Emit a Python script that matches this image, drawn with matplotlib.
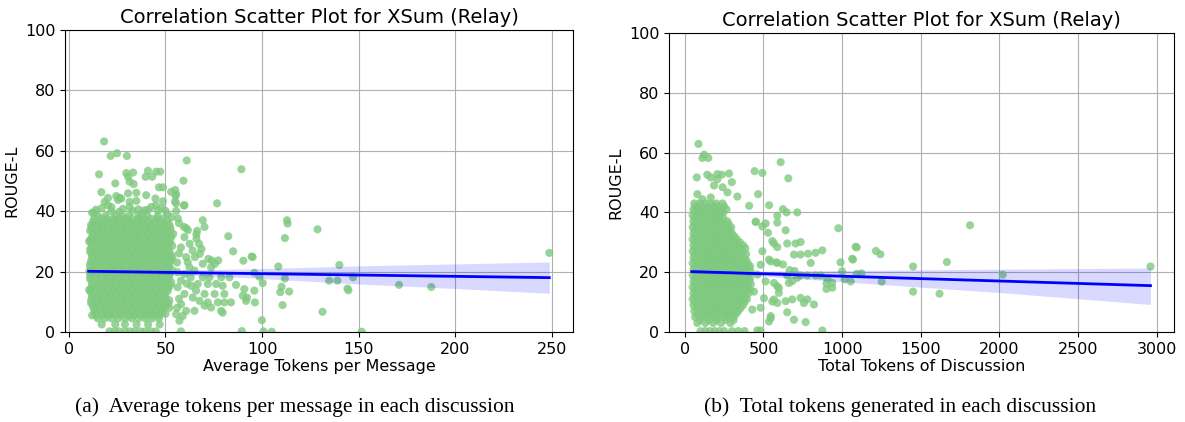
import matplotlib.pyplot as plt

# ---- panel (a): average tokens per message vs ROUGE-L ----
# dense core, one row per ROUGE-L level: (rouge, [avg tokens ...])
core_rows_a = [
    (38.5, [15, 19, 24, 27.5, 31, 36, 40.5, 46]),
    (37.5, [13, 16.5, 19.5, 23, 26, 29.5, 32.5, 36, 39, 42.5, 45.5, 49]),
    (36.5, [12.5, 15.5, 19, 22, 25, 28.5, 31.5, 35, 38, 41, 44.5, 48, 51]),
    (35.5, [11.5, 14, 17, 20.5, 23.5, 26.5, 30, 33, 36, 39, 42.5, 45.5, 49, 52]),
    (34.5, [11.5, 14.5, 17.5, 20.5, 23.5, 27, 30, 33, 36.5, 39.5, 42.5, 46, 49, 52.5]),
    (33.5, [11, 14.5, 17.5, 20.5, 24, 27, 30, 33.5, 36.5, 39.5, 43, 46, 49, 52.5]),
    (32.5, [12.5, 16, 19, 22, 25, 28, 31.5, 34.5, 37.5, 41, 44, 47, 50.5, 54]),
    (31.5, [12, 15, 18, 21.5, 24.5, 27.5, 31, 34, 37, 40.5, 43.5, 46.5, 50, 53]),
    (30.5, [11, 14, 17.5, 20.5, 23.5, 26.5, 30, 33, 36, 39.5, 42.5, 45.5, 49, 52]),
    (29.5, [11.5, 14.5, 18, 21, 24, 27.5, 30.5, 33.5, 37, 40, 43, 46.5, 49.5, 52.5]),
    (28.5, [12, 15.5, 18.5, 21.5, 25, 28, 31, 34.5, 37.5, 40.5, 44, 47, 50, 53.5]),
    (27.5, [11, 14, 17, 20, 23, 26.5, 29.5, 32.5, 36, 39, 42, 45.5, 48.5, 51.5]),
    (26.5, [11, 14, 17, 20.5, 23.5, 26.5, 30, 33, 36, 39, 42.5, 45.5, 48.5, 52]),
    (25.5, [12, 15, 18.5, 21.5, 24.5, 28, 31, 34, 37.5, 40.5, 43.5, 47, 50, 53]),
    (24.5, [12, 15.5, 18.5, 21.5, 25, 28, 31, 34, 37.5, 40.5, 43.5, 47, 50, 53.5]),
    (23.5, [11.5, 14.5, 17.5, 21, 24, 27, 30.5, 33.5, 36.5, 40, 43, 46, 49.5, 52.5]),
    (22.5, [11, 14, 17, 20, 23.5, 26.5, 29.5, 33, 36, 39, 42, 45.5, 48.5, 52]),
    (21.5, [11, 14, 17, 20, 23, 26.5, 29.5, 32.5, 36, 39, 42, 45.5, 48.5, 51.5]),
    (20.5, [12, 15.5, 18.5, 21.5, 24.5, 28, 31, 34, 37, 40.5, 43.5, 46.5, 50, 53.5]),
    (19.5, [11.5, 14.5, 18, 21, 24, 27.5, 30.5, 33.5, 37, 40, 43, 46.5, 49.5, 52.5]),
    (18.5, [11, 14, 17, 20, 23.5, 26.5, 29.5, 32.5, 36, 39, 42, 45, 48.5, 52]),
    (17.5, [11, 14, 17, 20, 23, 26.5, 29.5, 32.5, 36, 39, 42, 45.5, 48.5, 51.5]),
    (16.5, [12, 15.5, 18.5, 21.5, 24.5, 28, 31, 34, 37, 40.5, 43.5, 46.5, 50, 53]),
    (15.5, [12, 15, 18.5, 21.5, 24.5, 28, 31, 34, 37.5, 40.5, 43.5, 47, 50, 52.5]),
    (14.5, [11.5, 14.5, 17.5, 20.5, 23.5, 27, 30, 33, 36, 39, 42.5, 45.5, 48.5, 51.5]),
    (13.5, [11, 14, 17, 20, 23, 26.5, 29.5, 32.5, 36, 39, 42, 45.5, 48.5, 51]),
    (12.5, [12, 15.5, 18.5, 21.5, 24.5, 28, 31, 34, 37, 40, 43.5, 46.5, 49.5]),
    (11.5, [12, 15, 18, 21.5, 24.5, 27.5, 31, 34, 37, 40.5, 43.5, 46.5, 50]),
    (10.5, [11.5, 14.5, 17.5, 20.5, 23.5, 27, 30, 33, 36, 39, 42, 45.5, 48.5, 52]),
    (9.5, [11.5, 14.5, 17.5, 20.5, 24, 27, 30, 33.5, 36.5, 39.5, 43, 46, 49, 51.5]),
    (8.5, [12.5, 16, 19, 22, 25, 28, 31.5, 34.5, 37.5, 40.5, 43.5, 47, 50]),
    (7.5, [13, 16.5, 19.5, 22.5, 26, 29, 32, 35.5, 38.5, 41.5, 45, 48]),
    (6.5, [13.5, 17, 20, 23, 26.5, 29.5, 32.5, 35.5, 39, 42, 45, 48]),
    (5.5, [14, 17.5, 20.5, 24, 27, 30.5, 33.5, 37, 40, 43.5, 47]),
    (4.5, [15, 18.5, 22, 25.5, 29, 32.5, 36, 39.5, 43, 46.5]),
    (2.5, [17, 24, 29, 35, 41, 47]),
    (0.2, [21, 23.5, 26, 29, 31.5, 34, 37, 39.5, 42.5, 45]),
]

# scattered discussions outside the core
extra_avg_tokens = [
    18.2, 21.6, 24.9, 30, 61, 89.3, 15.6, 29.7, 33.2, 30.6, 31.4, 40.9, 45.2, 47.3,
    39.7, 43.1, 59.3, 24, 33.5, 46.6, 48.7, 52.9, 55, 55.5, 16.8, 20.2, 24.5, 26.2,
    30.6, 34.9, 40, 44.8, 48.7, 55.2, 55.5, 59.8, 18.5, 20.2, 22, 25.4, 27.1, 31.4,
    34.9, 31.4, 39.2, 42.6, 46.1, 50, 76.7, 59.6, 54.9, 55.5, 56.4, 69.3, 60.7, 59.5,
    70.2, 66.4, 66, 82.5, 85, 94.6, 90.3, 14, 17, 28, 36, 45, 12,
    13, 22, 26, 33, 38, 41, 48, 51, 53, 10.5, 10.5, 10.5, 12, 50, 52,
    61.6, 62.5, 66, 67.4, 68.6, 59.8, 60.7, 65.2, 67.8, 72.2, 73.9, 75.6, 77.3, 73.6,
    69.3, 61.5, 62.4, 65, 59.8, 56.3, 69.3, 72.8, 78.8, 83.1, 66.7, 63.3, 71.9, 76.2,
    79.6, 86.5, 65.8, 70.2, 75.4, 80.5, 56.3, 59.8, 64.1, 67.6, 71.9, 77.1, 80.5, 83.9,
    91.7, 90, 58.1, 60.7, 65, 70.2, 73.6, 78.8, 79.6, 55.5, 58.9, 57.2,
    57, 58, 57, 56, 58, 57, 56, 61, 63, 64,
    248.7, 187.6, 170.9, 151.6, 147.1, 144.2, 144.7, 140, 139, 134.7, 131.3, 128.7,
    112.9, 113.2, 111.8, 111.8, 110.6, 110.1, 109.4, 114, 108.4, 105, 99.9, 100.3,
    98.6, 96, 96, 96.3, 95.1, 90.8, 92.2, 89.5, 58, 100.8,
]
extra_rouge_a = [
    63.1, 58.3, 59.2, 58.3, 56.8, 53.9, 52.2, 52.6, 52.8, 51.4, 49.8, 53.4, 53.1, 53.1,
    51.4, 51.4, 50.1, 49.2, 49, 47.9, 47.9, 46.4, 47, 45.6, 46.3, 44.4, 45, 44.4,
    45.9, 46.1, 45.3, 44.2, 43.3, 45, 42.6, 42, 43.1, 42, 41.4, 43.7, 44.2, 43.1,
    43.4, 41.4, 40.3, 41.4, 40.3, 40.1, 42.6, 41.9, 43.2, 40.1, 37.6, 37, 34.4, 34.8,
    34.8, 33.5, 32.4, 31.7, 26.7, 25, 23.6, 40.5, 41, 40.8, 40.6, 42, 39.5,
    39.5, 40, 39.8, 40.2, 39.4, 40.5, 41, 39, 38, 30, 20, 14, 5.5, 6, 8,
    33.7, 29.2, 30.9, 29.2, 27.5, 31.4, 24.8, 24.8, 25.9, 24.2, 23.7, 22.6, 23.7, 21.4,
    22.6, 23.1, 21.4, 20.3, 19.2, 19.8, 18.1, 18.1, 18.1, 18.1, 15.9, 15.3, 15.9, 15.9,
    15.3, 15.6, 13.7, 12.6, 12.6, 12.6, 14.8, 12.6, 11.4, 10.3, 9.8, 9.8, 9.8, 9.8,
    10.3, 12, 9.2, 7, 7, 8.7, 8.1, 7, 6.4, 5.9, 5.3, 3.7,
    36, 28, 26, 23, 17, 11, 8, 16, 18, 27,
    26.2, 14.9, 15.6, 0.1, 18.1, 14.4, 13.8, 22.2, 17, 17, 6.7, 34,
    37, 35.9, 31.1, 17.7, 8.9, 15, 13.2, 13.4, 21.7, 0.1, 3.9, 16.2,
    18.3, 19.6, 13.7, 9.8, 24.8, 14.2, 11.4, 0.3, 0.2, 0.2,
]

# regression line and its confidence band
fit_a_x = [10.2, 248.7]
fit_a_y = [20.1, 18.0]
band_a_x = [10.2, 35, 94, 150, 197, 248.7]
band_a_lo = [19.5, 19.5, 17.9, 15.9, 14.5, 12.8]
band_a_hi = [20.7, 20.3, 20.9, 21.9, 22.5, 23.2]

# ---- panel (b): total tokens of discussion vs ROUGE-L ----
core_rows_b = [
    (43, [60, 95, 130, 165, 200, 240]),
    (42, [70, 105, 140, 180, 215, 250]),
    (41, [55, 90, 125, 160, 195, 230, 265]),
    (40, [65, 100, 135, 170, 210, 245]),
    (39, [50, 85, 120, 155, 190, 225]),
    (38, [65, 100, 140, 175, 210, 245]),
    (37, [55, 90, 125, 160, 195, 230, 270]),
    (36, [65, 100, 140, 175, 210, 245, 280]),
    (35, [50, 85, 120, 155, 190, 225, 260, 295]),
    (34, [65, 105, 140, 175, 210, 245, 285]),
    (33, [55, 90, 125, 160, 195, 230, 265, 300]),
    (32, [65, 100, 140, 175, 210, 245, 280, 315]),
    (31, [50, 85, 120, 155, 190, 225, 260, 295, 330]),
    (30, [65, 105, 140, 175, 210, 245, 280, 315, 350]),
    (29, [55, 90, 125, 160, 195, 230, 265, 300, 335, 370]),
    (28, [65, 105, 140, 175, 210, 245, 280, 315, 350, 385]),
    (27, [50, 85, 120, 155, 190, 225, 260, 295, 330, 365]),
    (26, [65, 105, 140, 175, 210, 245, 280, 315, 350, 390]),
    (25, [55, 90, 125, 160, 195, 230, 265, 300, 335, 375]),
    (24, [65, 105, 140, 175, 210, 245, 280, 315, 350, 390]),
    (23, [50, 85, 120, 155, 190, 225, 260, 295, 330, 365, 400]),
    (22, [65, 105, 140, 175, 210, 245, 280, 315, 350, 385, 415]),
    (21, [55, 90, 125, 160, 195, 230, 265, 300, 335, 370, 410]),
    (20, [65, 105, 140, 175, 210, 245, 280, 315, 350, 385, 420]),
    (19, [50, 85, 120, 155, 190, 225, 260, 295, 330, 365, 400]),
    (18, [65, 105, 140, 175, 210, 245, 280, 315, 350, 385, 415]),
    (17, [55, 90, 125, 160, 195, 230, 265, 300, 335, 370, 410]),
    (16, [65, 105, 140, 175, 210, 245, 280, 315, 350, 385, 420]),
    (15, [50, 85, 120, 155, 190, 225, 260, 295, 330, 365, 400]),
    (14, [65, 105, 140, 175, 210, 245, 280, 315, 350, 385, 415]),
    (13, [55, 90, 125, 160, 195, 230, 265, 300, 335, 370, 405]),
    (12, [65, 105, 140, 175, 210, 245, 280, 315, 350, 385]),
    (11, [50, 85, 120, 155, 190, 225, 260, 295, 330, 365, 395]),
    (10, [65, 105, 140, 175, 210, 245, 280, 315, 350, 380]),
    (9, [55, 90, 125, 160, 195, 230, 265, 300, 335, 370]),
    (8, [75, 110, 145, 180, 215, 250, 285, 320, 355]),
    (7, [60, 95, 130, 165, 200, 235, 270, 305, 340]),
    (6, [80, 115, 150, 185, 220, 255, 290, 325]),
    (5, [65, 100, 135, 170, 205, 240, 275, 310]),
    (4, [95, 150, 200, 260, 310]),
    (3, [80, 130, 180, 230, 290]),
    (0.3, [100, 130, 160, 190, 220, 250, 300, 340, 380]),
]

extra_total_tokens = [
    86.8, 112, 123, 150, 609.5, 76, 143, 165, 207, 235, 281, 207, 444, 493, 658,
    299, 240, 271, 334, 186, 466, 80, 112, 165, 409, 536, 624, 647, 715, 588, 588,
    641, 493, 451, 976, 1086, 567, 588, 651, 704, 736, 694, 736, 783, 831, 874, 800,
    990, 1064, 582, 624, 667, 698, 831, 863, 906, 901, 937, 937, 901, 779, 736, 715,
    651, 683, 588, 662, 598, 567, 641, 683, 736, 757, 779, 821, 546, 535, 651, 694,
    768, 874, 482, 461, 1000, 1017, 1093,
    451, 514, 529, 556, 493, 535, 482, 546, 588, 461, 514, 567, 598, 440, 503, 556,
    482, 546, 588, 429,
    1813, 1093, 1215, 1243, 1069, 1666, 1451, 2960, 1123, 2021, 1054, 1251, 1451, 1619,
]
extra_rouge_b = [
    62.9, 58.2, 59.3, 58.2, 56.8, 51.7, 52.6, 51.7, 52.8, 52.6, 53, 51.1, 53.8, 53.2, 51.4,
    50.1, 48.4, 46.7, 45.3, 49, 46.1, 46.1, 44.4, 45, 42.2, 42.4, 41.1, 40, 40, 38.9, 36.6,
    34, 35.3, 36.8, 34.7, 28.5, 29.6, 28.4, 29.6, 29.6, 30.1, 25.9, 25.9, 26.2, 26.5, 27.3, 23.1,
    23.3, 24.5, 23.3, 22.6, 20.7, 20.4, 18.9, 18.9, 17.6, 16.2, 16.4, 14.8, 14.4, 18.9, 18.9, 18.1,
    18.9, 17, 15.3, 16.4, 13.1, 10.9, 10.3, 10.9, 11.4, 9.7, 10.9, 9.2, 4.6, 3.5, 6.6, 4.1,
    3.3, 0.5, 0.5, 0.5, 20.3, 17.6, 19.4,
    36.9, 36.3, 33.2, 30.4, 27, 24.2, 22.5, 23.6, 23.1, 19.2, 16.9, 16.4, 14.7, 13.5, 11.3, 10.2,
    8.1, 5.3, 9.7, 7.5,
    35.7, 28.3, 27.1, 26, 24.2, 23.4, 21.9, 21.9, 19.6, 19.2, 16.9, 16.8, 13.5, 12.8,
]

fit_b_x = [44, 2960]
fit_b_y = [20.2, 15.5]
band_b_x = [44, 300, 1054, 1500, 2000, 2960]
band_b_lo = [19.6, 19.4, 16.6, 15.0, 13.2, 9.2]
band_b_hi = [20.8, 20.2, 20.6, 20.8, 21.0, 21.4]

TITLE = 'Correlation Scatter Plot for XSum (Relay)'
POINT_COLOR = '#7fc97f'


def unpack(rows, extra_x, extra_y):
    xs, ys = [], []
    for r, row in rows:
        xs += row
        ys += [r] * len(row)
    return xs + extra_x, ys + extra_y


def draw_panel(ax, xs, ys, fit_x, fit_y, band_x, band_lo, band_hi, xlabel):
    ax.set_axisbelow(True)
    ax.scatter(xs, ys, s=34, color=POINT_COLOR, alpha=0.8, edgecolors='none')
    ax.fill_between(band_x, band_lo, band_hi, color='blue', alpha=0.15, linewidth=0)
    ax.plot(fit_x, fit_y, color='blue', linewidth=2)
    ax.set_title(TITLE, fontsize=14, pad=5)
    ax.set_xlabel(xlabel, fontsize=11.5, labelpad=2)
    ax.set_ylabel('ROUGE-L', fontsize=11.5)
    ax.set_ylim(0, 100)
    ax.tick_params(labelsize=11.5)
    ax.grid(True)


fig = plt.figure(figsize=(11.85, 4.22), dpi=100)
ax1 = fig.add_axes([0.0549, 0.2133, 0.4287, 0.7156])
ax2 = fig.add_axes([0.5646, 0.2133, 0.4262, 0.7085])

xa, ya = unpack(core_rows_a, extra_avg_tokens, extra_rouge_a)
draw_panel(ax1, xa, ya, fit_a_x, fit_a_y, band_a_x, band_a_lo, band_a_hi,
           'Average Tokens per Message')
ax1.set_xlim(-2, 261)
ax1.set_xticks([0, 50, 100, 150, 200, 250])

xb, yb = unpack(core_rows_b, extra_total_tokens, extra_rouge_b)
draw_panel(ax2, xb, yb, fit_b_x, fit_b_y, band_b_x, band_b_lo, band_b_hi,
           'Total Tokens of Discussion')
ax2.set_xlim(-100, 3110)
ax2.set_xticks([0, 500, 1000, 1500, 2000, 2500, 3000])

cap = dict(ha='center', va='center', family='Liberation Serif', fontsize=15.5)
fig.text(295 / 1185, 1 - 407 / 422, '(a)  Average tokens per message in each discussion', **cap)
fig.text(900 / 1185, 1 - 407 / 422, '(b)  Total tokens generated in each discussion', **cap)

fig.savefig('out.png', dpi=100)
